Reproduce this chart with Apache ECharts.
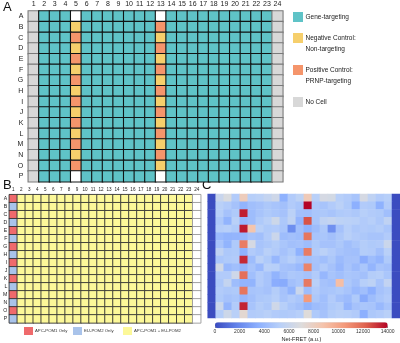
<!DOCTYPE html>
<html><head><meta charset="utf-8">
<script src="https://cdn.jsdelivr.net/npm/echarts@6/dist/echarts.min.js"></script>
<style>html,body{margin:0;padding:0;background:#fff}#c{width:400px;height:343px}</style>
</head><body><div id="c"></div>
<script>
const rowLabels = ['A','B','C','D','E','F','G','H','I','J','K','L','M','N','O','P'];
const colLabels = ['1','2','3','4','5','6','7','8','9','10','11','12','13','14','15','16','17','18','19','20','21','22','23','24'];

// Panel A plate layout: N = no cell, G = gene-targeting, Y = negative control, R = positive control, E = empty
const plateA = [
  'NGGGEGGGGGGGEGGGGGGGGGGN',
  'NGGGYGGGGGGGRGGGGGGGGGGN',
  'NGGGRGGGGGGGYGGGGGGGGGGN',
  'NGGGYGGGGGGGRGGGGGGGGGGN',
  'NGGGRGGGGGGGYGGGGGGGGGGN',
  'NGGGYGGGGGGGRGGGGGGGGGGN',
  'NGGGRGGGGGGGYGGGGGGGGGGN',
  'NGGGYGGGGGGGRGGGGGGGGGGN',
  'NGGGRGGGGGGGYGGGGGGGGGGN',
  'NGGGYGGGGGGGRGGGGGGGGGGN',
  'NGGGRGGGGGGGYGGGGGGGGGGN',
  'NGGGYGGGGGGGRGGGGGGGGGGN',
  'NGGGRGGGGGGGYGGGGGGGGGGN',
  'NGGGYGGGGGGGRGGGGGGGGGGN',
  'NGGGRGGGGGGGYGGGGGGGGGGN',
  'NGGGEGGGGGGGEGGGGGGGGGGN'
];
const legendA = ['Gene-targeting', 'Negative Control:\nNon-targeting', 'Positive Control:\nPRNP-targeting', 'No Cell'];
const legendACodes = ['G','Y','R','N'];

// Panel B plate layout: P = APC-POM1 only, U = EU-POM2 only, Y = both, W = empty
const plateB = [
  'PYYYYYYYYYYYYYYYYYYYYYYW','UYYYYYYYYYYYYYYYYYYYYYYW',
  'PYYYYYYYYYYYYYYYYYYYYYYW','UYYYYYYYYYYYYYYYYYYYYYYW',
  'PYYYYYYYYYYYYYYYYYYYYYYW','UYYYYYYYYYYYYYYYYYYYYYYW',
  'PYYYYYYYYYYYYYYYYYYYYYYW','UYYYYYYYYYYYYYYYYYYYYYYW',
  'PYYYYYYYYYYYYYYYYYYYYYYW','UYYYYYYYYYYYYYYYYYYYYYYW',
  'PYYYYYYYYYYYYYYYYYYYYYYW','UYYYYYYYYYYYYYYYYYYYYYYW',
  'PYYYYYYYYYYYYYYYYYYYYYYW','UYYYYYYYYYYYYYYYYYYYYYYW',
  'PYYYYYYYYYYYYYYYYYYYYYYW','UYYYYYYYYYYYYYYYYYYYYYYW'
];
const legendB = ['APC-POM1 Only', 'EU-POM2 Only', 'APC-POM1 + EU-POM2'];
const legendBCodes = ['P','U','Y'];

// Panel C Net-FRET values (a.u.), rows A..P, columns 1..24
const netFret = [
  [0,6000,6800,5000,8200,5200,5400,5800,6300,3600,5000,5500,8300,5300,6600,6500,5200,5000,4600,6600,5600,5000,5200,0],
  [0,5300,5000,4500,3700,4300,4500,4800,4600,4400,5000,4700,14000,4800,4600,5000,5400,4900,3500,5000,4900,3600,5000,0],
  [0,5200,4500,4900,13500,4200,4600,4900,4700,4500,5400,4400,4300,4700,4800,4600,4900,5000,4800,5200,5000,4900,4300,0],
  [0,4800,3700,5300,3900,4200,4900,5300,6200,4800,5600,3800,12500,4700,5600,5800,5500,5400,5300,5000,5200,4800,5600,0],
  [0,5100,5200,4900,13600,8700,5300,4900,5000,4700,2200,4300,3600,4200,4800,2300,4500,5200,4800,5000,4900,5100,4700,0],
  [0,4000,3700,3800,3900,4500,4300,5000,6100,4200,4400,4200,11600,4600,4700,4400,4800,5300,5000,4800,4600,4600,5000,0],
  [0,4600,3700,4900,11400,6600,4600,4800,5100,4700,4400,4500,4200,4900,4500,4500,4800,4300,4700,5100,4900,5000,6100,0],
  [0,5600,4800,4900,3600,5000,4700,5300,5000,4500,4900,3600,11400,5000,5400,5000,4600,4400,4300,5100,5000,4400,5300,0],
  [0,4700,4900,5000,13300,4200,5400,4900,3900,4800,5200,4700,4400,4600,4300,4800,4100,4500,4500,3400,4200,3800,4900,0],
  [0,6400,4000,4300,3800,4600,4000,5300,5200,4500,4400,4000,11200,4500,5000,4500,3900,4600,4100,4700,3800,4600,4400,0],
  [0,5000,5000,6300,11800,4300,5000,4600,3700,4400,4800,4700,4500,5000,3900,4600,4300,4700,4600,4400,5100,5200,4700,0],
  [0,4800,5800,4200,3700,3700,5000,4600,3400,3300,4400,4700,11500,5300,4500,4300,9000,4800,4400,5200,5500,4600,5700,0],
  [0,5000,4800,4900,11600,4600,4700,4500,5100,4500,3700,6100,4200,5000,4600,4700,4900,4600,4000,4300,3500,4500,4800,0],
  [0,4900,4500,4700,3900,4400,4800,4900,5200,4600,5000,4700,10500,4800,4300,5000,4400,4100,4900,3300,4200,4700,5000,0],
  [0,6100,3800,5000,13400,4600,5100,4800,6300,5200,4700,4400,3700,4200,4400,4900,5100,3800,4500,4700,4600,4000,4600,0],
  [0,5100,6200,5300,7400,5000,5100,5300,5000,4900,5000,5200,7100,4900,4500,5100,5300,5200,5000,3500,4800,5000,5300,0]
];
const fretMin = 0, fretMax = 14000, fretStep = 2000;
const fretTitle = 'Net-FRET (a.u.)';

// ---- styles ----
const FONT = 'Liberation Sans, Arial, sans-serif';
const colorA = {G:'#5fc3c7', Y:'#f6cf6c', R:'#f5956b', N:'#d8d8d8', E:'#ffffff'};
const borderA = {G:'#101414', Y:'#101414', R:'#101414', N:'#7a7a7a', E:'#101414'};
const colorB = {P:'#ef6a6c', U:'#a9c3ea', Y:'#fcf899', W:'#ffffff'};
const borderB = {P:'#333333', U:'#333333', Y:'#333333', W:'#9a9a9a'};
const coolwarm = ['#3b4cc0','#6282ea','#8db0fe','#b8d0f9','#dddcdc','#f5c4ac','#f49a7b','#de604d','#b40426'];

function plateData(plate, fills, borders, bw) {
  const out = [];
  plate.forEach((row, r) => {
    row.split('').forEach((ch, c) => {
      out.push({value: [c, r, 1], itemStyle: {color: fills[ch], borderColor: borders[ch], borderWidth: bw}});
    });
  });
  return out;
}
const dataA = plateData(plateA, colorA, borderA, 1.1);
const dataB = plateData(plateB, colorB, borderB, 0.9);
const dataC = [];
netFret.forEach((row, r) => row.forEach((v, c) => dataC.push([c, r, v])));

const gA = {left: 28.3, top: 11, width: 254.5, height: 170.7};
const gB = {left: 8.3, top: 194.7, width: 192.4, height: 128.2};
const gC = {left: 207.7, top: 194, width: 192.3, height: 124};
const gBar = {left: 215, top: 322.3, width: 172.7, height: 6};

const chart = echarts.init(document.getElementById('c'), null, {renderer: 'canvas'});

const graphics = [];
graphics.push({type:'text', left: 3, top: 1, style:{text:'A', font:'13px ' + FONT, fill:'#111'}});
graphics.push({type:'text', left: 3, top: 179, style:{text:'B', font:'13px ' + FONT, fill:'#111'}});
graphics.push({type:'text', left: 202, top: 179, style:{text:'C', font:'13px ' + FONT, fill:'#111'}});
const legAY = [12, 33, 65, 97];
legendA.forEach((t, i) => {
  graphics.push({type:'rect', shape:{x:293, y:legAY[i], width:10, height:10}, style:{fill: colorA[legendACodes[i]]}});
  graphics.push({type:'text', x:305.5, y:legAY[i] + 5 - 5.5, style:{text:t, font:'6.5px ' + FONT, fill:'#222', lineHeight:11, verticalAlign:'top'}});
});
const legBX = [24, 73, 123];
legendB.forEach((t, i) => {
  graphics.push({type:'rect', shape:{x:legBX[i], y:327, width:9, height:8}, style:{fill: colorB[legendBCodes[i]]}});
  graphics.push({type:'text', x:legBX[i] + 11, y:331.3, style:{text:t, font:'4.3px ' + FONT, fill:'#333', verticalAlign:'middle'}});
});

const catX = (grid, fs, show, margin) => ({
  type:'category', gridIndex: grid, data: colLabels, position:'top',
  axisLine:{show:false}, axisTick:{show:false}, splitLine:{show:false},
  axisLabel:{show: show, fontSize: fs, color:'#222', fontFamily: FONT, margin: margin, interval: 0}
});
const catY = (grid, fs, show, margin) => ({
  type:'category', gridIndex: grid, data: rowLabels, inverse: true,
  axisLine:{show:false}, axisTick:{show:false}, splitLine:{show:false},
  axisLabel:{show: show, fontSize: fs, color:'#222', fontFamily: FONT, margin: margin, interval: 0}
});

chart.setOption({
  animation: false,
  backgroundColor: '#fff',
  grid: [
    Object.assign({}, gA),
    Object.assign({}, gB),
    Object.assign({}, gC),
    Object.assign({}, gBar)
  ],
  xAxis: [
    catX(0, 7, true, 3),
    catX(1, 4.6, true, 2),
    catX(2, 5, false, 2),
    {type:'value', gridIndex:3, min: fretMin, max: fretMax, interval: fretStep, position:'bottom',
     axisLine:{show:false}, splitLine:{show:false},
     axisTick:{show:true, length:2, lineStyle:{color:'#333', width:0.6}},
     axisLabel:{fontSize:5, color:'#333', fontFamily: FONT, margin:3, formatter: v => String(v)},
     name: fretTitle, nameLocation:'middle', nameGap: 10,
     nameTextStyle:{fontSize:5.6, color:'#222', fontFamily: FONT}}
  ],
  yAxis: [
    catY(0, 7, true, 5),
    catY(1, 5.2, true, 2),
    catY(2, 5, false, 2),
    {type:'value', gridIndex:3, show:false, min:0, max:1}
  ],
  visualMap: [
    {type:'continuous', seriesIndex:2, dimension:2, min: fretMin, max: fretMax,
     orient:'horizontal', left: gBar.left, top: gBar.top, itemWidth: 6, itemHeight: gBar.width,
     padding: 0, calculable:false, text: null, showLabel:false, hoverLink:false,
     inRange:{color: coolwarm}}
  ],
  series: [
    {type:'heatmap', xAxisIndex:0, yAxisIndex:0, data: dataA, emphasis:{disabled:true}},
    {type:'heatmap', xAxisIndex:1, yAxisIndex:1, data: dataB, emphasis:{disabled:true}},
    {type:'heatmap', xAxisIndex:2, yAxisIndex:2, data: dataC,
     itemStyle:{borderWidth:0}, emphasis:{disabled:true}}
  ],
  graphic: graphics
});
</script></body></html>
